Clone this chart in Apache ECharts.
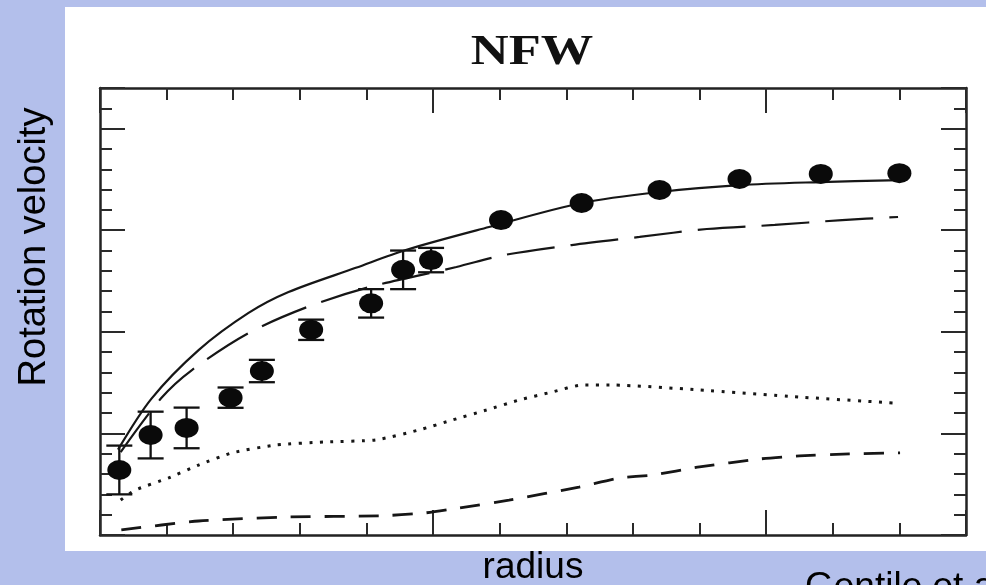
<!DOCTYPE html>
<html>
<head>
<meta charset="utf-8">
<script src="https://cdn.jsdelivr.net/npm/echarts@6/dist/echarts.min.js"></script>
<style>html,body{margin:0;padding:0;background:#b3bfeb;}#chart{width:986px;height:585px;}</style>
</head>
<body>
<div id="chart"></div>
<script>
// observed rotation curve
var obsR   = [0.29, 0.76, 1.30, 1.96, 2.43, 3.17, 4.07, 4.55, 4.97, 6.02, 7.23, 8.40, 9.60, 10.82, 12.0];
var obsV   = [32, 49.2, 52.7, 67.6, 80.7, 101, 114, 130.5, 135.3, 155, 163.4, 169.8, 175.2, 177.7, 178.1];
var obsErr = [12, 11.5, 10, 5, 5.5, 5, 7, 9.5, 6, 0, 0, 0, 0, 0, 0];
// NFW total fit (solid)
var totR = [0.27, 0.77, 1.48, 2.23, 2.83, 3.84, 4.59, 5.84, 7.23, 8.40, 9.60, 10.81, 12.01];
var totV = [42, 67, 91, 109.3, 119.6, 131.5, 140.3, 151.6, 163.4, 168.8, 172.2, 173.7, 174.7];
// halo (long dashes)
var haloR = [0.31, 0.92, 1.38, 2.23, 3.11, 4.04, 5.35, 6.07, 7.08, 8.10, 9.11, 10.13, 11.14, 11.98];
var haloV = [40.8, 67.4, 81.2, 99.4, 112.2, 122.0, 131.9, 137.8, 142.7, 146.7, 150.6, 152.6, 155.0, 156.5];
// stellar disk (dotted)
var diskR = [0.31, 0.53, 1.03, 1.48, 1.98, 2.64, 3.39, 4.14, 4.79, 5.29, 5.80, 6.29, 6.79, 7.24, 7.69, 9.00, 10.50, 11.90];
var diskV = [17.2, 22.1, 28.1, 34.4, 40.4, 44.3, 45.8, 46.8, 51.7, 56.6, 61.5, 66.4, 70.4, 73.8, 73.8, 71.4, 67.9, 65.0];
// gas (short dashes)
var gasR = [0.32, 1.48, 2.83, 4.19, 4.86, 5.39, 6.14, 7.19, 7.80, 8.29, 9.00, 9.90, 10.50, 11.25, 12.01];
var gasV = [2.5, 6.9, 8.9, 9.4, 10.8, 13.3, 17.2, 23.6, 28.1, 29.5, 33.5, 37.4, 38.9, 39.9, 40.4];

var xMin = 0, xMax = 13, xMinor = 1, xMajor = 5;
var yMin = 0, yMax = 220, yMinor = 10, yMajor = 50;

function zip(a, b) { return a.map(function (v, i) { return [v, b[i]]; }); }
var errData = obsR.map(function (r, i) { return [r, obsV[i] - obsErr[i], obsV[i] + obsErr[i]]; });

var ink = '#161616';
function mkX(pos, interval, len, showLine) {
  return {
    type: 'value', position: pos, min: xMin, max: xMax, interval: interval,
    axisLine: { show: showLine, onZero: false, lineStyle: { color: '#222', width: 2.5 } },
    axisTick: { show: true, inside: true, length: len, lineStyle: { color: '#2a2a2a', width: 2 } },
    axisLabel: { show: false }, splitLine: { show: false }
  };
}
function mkY(pos, interval, len, showLine) {
  return {
    type: 'value', position: pos, min: yMin, max: yMax, interval: interval,
    axisLine: { show: showLine, onZero: false, lineStyle: { color: '#222', width: 2.5 } },
    axisTick: { show: true, inside: true, length: len, lineStyle: { color: '#2a2a2a', width: 2 } },
    axisLabel: { show: false }, splitLine: { show: false }
  };
}

var chart = echarts.init(document.getElementById('chart'), null, { renderer: 'canvas' });
chart.setOption({
  backgroundColor: '#b3bfeb',
  animation: false,
  grid: { left: 100, top: 88, right: 20, bottom: 50, containLabel: false },
  xAxis: [
    mkX('bottom', xMinor, 12, true),
    mkX('bottom', xMajor, 25, false),
    mkX('top', xMinor, 12, true),
    mkX('top', xMajor, 25, false)
  ],
  yAxis: [
    mkY('left', yMinor, 12, true),
    mkY('left', yMajor, 25, false),
    mkY('right', yMinor, 12, true),
    mkY('right', yMajor, 25, false)
  ],
  graphic: [
    { type: 'rect', z: -10, shape: { x: 65, y: 7, width: 921, height: 544 }, style: { fill: '#ffffff' } },
    { type: 'text', x: 532, y: 53, scaleX: 1.25, style: { text: 'NFW', font: 'bold 42px "Liberation Serif", "DejaVu Serif", serif', fill: '#111', align: 'center', verticalAlign: 'middle' } },
    { type: 'text', x: 35, y: 247, rotation: Math.PI / 2, style: { text: 'Rotation velocity', font: '38px "Liberation Sans", Arial, sans-serif', fill: '#000', align: 'center', verticalAlign: 'middle' } },
    { type: 'text', x: 533, y: 568, style: { text: 'radius', font: '37px "Liberation Sans", Arial, sans-serif', fill: '#000', align: 'center', verticalAlign: 'middle' } },
    { type: 'text', x: 805, y: 588, style: { text: 'Gentile et al.', font: '37px "Liberation Sans", Arial, sans-serif', fill: '#000', align: 'left', verticalAlign: 'middle' } }
  ],
  series: [
    { name: 'gas', type: 'line', data: zip(gasR, gasV), showSymbol: false, smooth: 0.2,
      lineStyle: { color: ink, width: 2.8, type: [20, 14] } },
    { name: 'disk', type: 'line', data: zip(diskR, diskV), showSymbol: false, smooth: 0.2,
      lineStyle: { color: ink, width: 3, type: [3, 7.5] } },
    { name: 'halo', type: 'line', data: zip(haloR, haloV), showSymbol: false, smooth: 0.3,
      lineStyle: { color: ink, width: 2.2, type: [48, 16] } },
    { name: 'total', type: 'line', data: zip(totR, totV), showSymbol: false, smooth: 0.3,
      lineStyle: { color: ink, width: 2.2 } },
    { name: 'errors', type: 'custom', data: errData, z: 3,
      renderItem: function (params, api) {
        var x = api.value(0);
        var pLo = api.coord([x, api.value(1)]);
        var pHi = api.coord([x, api.value(2)]);
        if (Math.abs(pLo[1] - pHi[1]) < 1) { return null; }
        var w = 13, st = { stroke: '#111', lineWidth: 2.3 };
        return { type: 'group', children: [
          { type: 'line', shape: { x1: pHi[0], y1: pHi[1], x2: pLo[0], y2: pLo[1] }, style: st },
          { type: 'line', shape: { x1: pHi[0] - w, y1: pHi[1], x2: pHi[0] + w, y2: pHi[1] }, style: st },
          { type: 'line', shape: { x1: pLo[0] - w, y1: pLo[1], x2: pLo[0] + w, y2: pLo[1] }, style: st }
        ] };
      } },
    { name: 'observed', type: 'scatter', data: zip(obsR, obsV), z: 4, symbol: 'circle', symbolSize: [24, 20],
      itemStyle: { color: '#0a0a0a', opacity: 1 } }
  ]
});
</script>
</body>
</html>
